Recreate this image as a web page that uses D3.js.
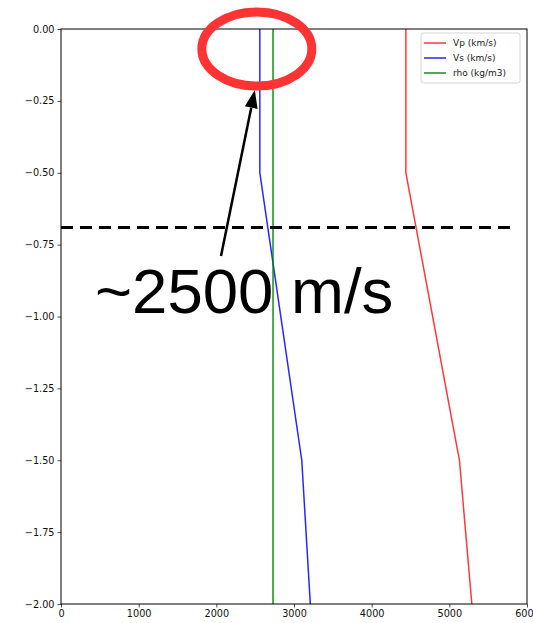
<!DOCTYPE html>
<html>
<head>
<meta charset="utf-8">
<script src="https://cdn.jsdelivr.net/npm/d3@7"></script>
<style>
  body { margin: 0; background: #fff; }
</style>
</head>
<body>
<svg></svg>
<script>
// velocity / density profile with depth
var depth = [0, -0.5, -1.5, -2.0];
var vp = [4440, 4440, 5130, 5290];
var vs = [2560, 2560, 3100, 3210];
var rho = [2730, 2730, 2730, 2730];
var seriesNames = ["Vp (km/s)", "Vs (km/s)", "rho (kg/m3)"];
var xTicks = [0, 1000, 2000, 3000, 4000, 5000, 6000];
var yTicks = [0, -0.25, -0.5, -0.75, -1.0, -1.25, -1.5, -1.75, -2.0];
var cutDepth = -0.69;
var noteText = "~2500 m/s";

var svgWidth = 533, svgHeight = 623;
var margin = {left: 61, top: 29, right: 6, bottom: 19};
var w = svgWidth - margin.left - margin.right;
var h = svgHeight - margin.top - margin.bottom;

var svg = d3.select("svg").attr("width", svgWidth).attr("height", svgHeight)
    .style("font-family", "DejaVu Sans, sans-serif");
var g = svg.append("g").attr("transform", "translate(" + margin.left + "," + margin.top + ")");

var x = d3.scaleLinear().domain([0, 6000]).range([0, w]);
var y = d3.scaleLinear().domain([0, -2]).range([0, h]);

var fmtY = function (d) { return d3.format(".2f")(d).replace("-", "\u2212"); };

var xAxis = g.append("g").attr("transform", "translate(0," + h + ")")
    .call(d3.axisBottom(x).tickValues(xTicks).tickSize(3.5).tickPadding(3).tickFormat(d3.format("d")));
var yAxis = g.append("g")
    .call(d3.axisLeft(y).tickValues(yTicks).tickSize(3.5).tickPadding(3).tickFormat(fmtY));
[xAxis, yAxis].forEach(function (a) {
    a.select(".domain").remove();
    a.selectAll("text").attr("font-size", 9.7).attr("font-family", "DejaVu Sans").attr("fill", "#111");
    a.selectAll("line").attr("stroke", "#222").attr("stroke-width", 0.8);
});

var line = d3.line().x(function (d) { return x(d[0]); }).y(function (d) { return y(d[1]); });
var series = [
    {vals: vp, color: "#ff0000", op: 0.78},
    {vals: vs, color: "#0000ff", op: 0.85},
    {vals: rho, color: "#008000", op: 0.9}
];
series.forEach(function (s) {
    g.append("path")
        .datum(s.vals.map(function (v, i) { return [v, depth[i]]; }))
        .attr("d", line)
        .attr("fill", "none")
        .attr("stroke", s.color)
        .attr("stroke-opacity", s.op)
        .attr("stroke-width", 1.5);
});

// frame
g.append("rect").attr("width", w).attr("height", h)
    .attr("fill", "none").attr("stroke", "#000").attr("stroke-width", 1);

// legend
var lg = g.append("g").attr("transform", "translate(" + (w - 106) + ",4)");
lg.append("rect").attr("width", 99).attr("height", 50).attr("rx", 2.5)
    .attr("fill", "#fff").attr("fill-opacity", 0.8).attr("stroke", "#d6d6d6");
seriesNames.forEach(function (n, i) {
    var yy = 10 + i * 15;
    lg.append("line").attr("x1", 3).attr("x2", 25).attr("y1", yy).attr("y2", yy)
        .attr("stroke", series[i].color).attr("stroke-opacity", series[i].op).attr("stroke-width", 1.5);
    lg.append("text").attr("x", 32).attr("y", yy + 3).attr("font-size", 9).attr("fill", "#222").text(n);
});

// annotations
g.append("line")
    .attr("x1", 0).attr("x2", w - 10)
    .attr("y1", y(cutDepth)).attr("y2", y(cutDepth))
    .attr("stroke", "#000").attr("stroke-width", 3).attr("stroke-dasharray", "12,7");

g.append("ellipse")
    .attr("cx", x(vs[0]) - 3).attr("cy", 20).attr("rx", 55).attr("ry", 37)
    .attr("fill", "none").attr("stroke", "#ff3333").attr("stroke-width", 9);

var tip = [x(vs[0]) - 5, 61];
var tail = [160, 227];
var ang = Math.atan2(tip[1] - tail[1], tip[0] - tail[0]);
var headLen = 18, headW = 6.5;
var bx = tip[0] - headLen * Math.cos(ang), by = tip[1] - headLen * Math.sin(ang);
g.append("line").attr("x1", tail[0]).attr("y1", tail[1]).attr("x2", bx).attr("y2", by)
    .attr("stroke", "#000").attr("stroke-width", 2.5);
g.append("path")
    .attr("d", "M" + tip[0] + "," + tip[1] +
        "L" + (bx + headW * Math.sin(ang)) + "," + (by - headW * Math.cos(ang)) +
        "L" + (bx - headW * Math.sin(ang)) + "," + (by + headW * Math.cos(ang)) + "Z")
    .attr("fill", "#000");

g.append("text").attr("x", 34).attr("y", 284)
    .style("font-family", "'Liberation Sans', Arial, sans-serif")
    .attr("font-size", 63.5).attr("fill", "#000").text(noteText);
</script>
</body>
</html>
